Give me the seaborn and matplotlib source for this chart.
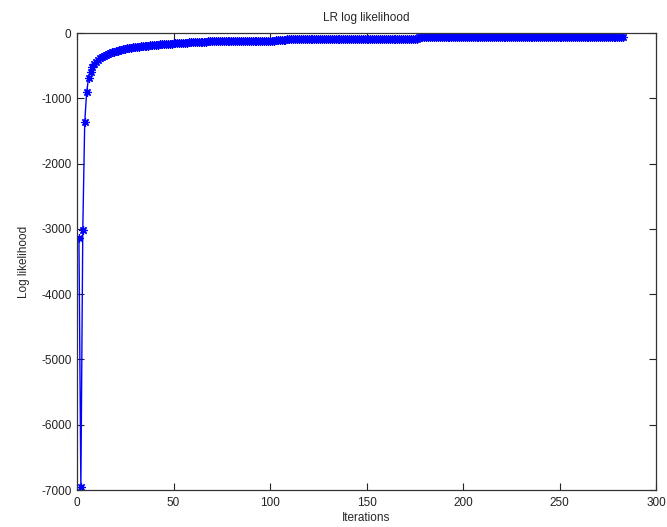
import matplotlib
matplotlib.use("Agg")
import matplotlib.pyplot as plt
import seaborn as sns
import pandas as pd

# ---- data ----
start_iteration = 1
loglik_early = [
    -3140, -6960, -3010, -1370, -905, -690, -590, -525, -480, -445,
    -415, -390, -368, -350, -334, -320, -308, -297, -287, -278,
    -270, -262, -255, -248, -242, -236, -231, -226, -221, -217,
    -213, -209, -205, -201, -198, -195, -192, -189, -186, -183,
    -180, -177, -174, -172, -170, -168, -166, -164, -162, -160,
    -158, -156, -154, -152, -150, -148, -146, -144, -142, -140,
    -138, -136, -135, -134, -133, -132, -131, -130, -129, -128,
]
loglik_mid = [
    -127, -127, -126, -126, -125, -125, -124, -124, -123, -123,
    -122, -122, -121, -121, -120, -120, -120, -119, -119, -119,
    -118, -118, -118, -117, -117, -117, -116, -116, -116, -115,
    -115, -115, -114, -114, -114, -113, -113, -113,
]
loglik_plateau1 = [
    -97, -97, -97, -97, -97, -97, -97, -97, -96, -96,
    -96, -96, -96, -96, -96, -96, -96, -96, -95, -95,
    -95, -95, -95, -95, -95, -95, -95, -95, -95, -94,
    -94, -94, -94, -94, -94, -94, -94, -94, -94, -94,
    -93, -93, -93, -93, -93, -93, -93, -93, -93, -93,
    -93, -93, -92, -92, -92, -92, -92, -92, -92, -92,
    -92, -92, -92, -92, -92, -92, -92, -92,
]
loglik_plateau2 = [
    -66, -66, -66, -66, -66, -66, -66, -66, -66, -66,
    -66, -66, -66, -66, -66, -66, -66, -66, -65, -65,
    -65, -65, -65, -65, -65, -65, -65, -65, -65, -65,
    -65, -65, -65, -65, -65, -65, -65, -65, -65, -65,
    -65, -65, -65, -65, -64, -64, -64, -64, -64, -64,
    -64, -64, -64, -64, -64, -64, -64, -64, -64, -64,
    -64, -64, -64, -64, -64, -64, -64, -64, -64, -64,
    -64, -64, -64, -64, -64, -64, -63, -63, -63, -63,
    -63, -63, -63, -63, -63, -63, -63, -63, -63, -63,
    -63, -63, -63, -63, -63, -63, -63, -63, -63, -63,
    -63, -63, -63, -63, -63, -63, -63,
]
x_ticks = [0, 50, 100, 150, 200, 250, 300]
y_ticks = [0, -1000, -2000, -3000, -4000, -5000, -6000, -7000]
title = "LR log likelihood"
x_label = "Iterations"
y_label = "Log likelihood"

loglik = loglik_early + loglik_mid + loglik_plateau1 + loglik_plateau2
iterations = list(range(start_iteration, start_iteration + len(loglik)))
df = pd.DataFrame({"Iterations": iterations, "LogLik": loglik})

sns.set_style("ticks")
plt.rcParams["font.family"] = ["Liberation Sans", "DejaVu Sans"]
plt.rcParams["font.size"] = 8.5

fig = plt.figure(figsize=(6.67, 5.27), dpi=100)
fig.patch.set_facecolor("white")
ax = fig.add_axes([77 / 667, (527 - 490) / 527, 579 / 667, 457 / 527])

sns.lineplot(data=df, x="Iterations", y="LogLik", ax=ax, color="#0000ff",
             linewidth=1.0, marker=(8, 2, 0), markersize=6,
             markeredgecolor="#0000ff", markeredgewidth=0.9, estimator=None,
             sort=False)

ax.set_xlim(0, 300)
ax.set_ylim(-7000, 0)
ax.set_xticks(x_ticks)
ax.set_yticks(y_ticks)
ax.set_xticklabels([str(t) for t in x_ticks])
ax.set_yticklabels([str(t) for t in y_ticks])
ax.tick_params(direction="in", length=5, width=0.8, top=True, right=True,
               labelsize=8.5, colors="#222222")
ax.tick_params(axis="x", pad=5)
ax.tick_params(axis="y", pad=4)
for s in ax.spines.values():
    s.set_visible(True)
    s.set_color("#333333")
    s.set_linewidth(0.9)
ax.set_title(title, fontsize=8.5, pad=9)
ax.set_xlabel(x_label, fontsize=8.5, labelpad=2)
ax.set_ylabel(y_label, fontsize=8.5, labelpad=8)
ax.grid(False)

fig.savefig("out.png", dpi=100, facecolor="white")
